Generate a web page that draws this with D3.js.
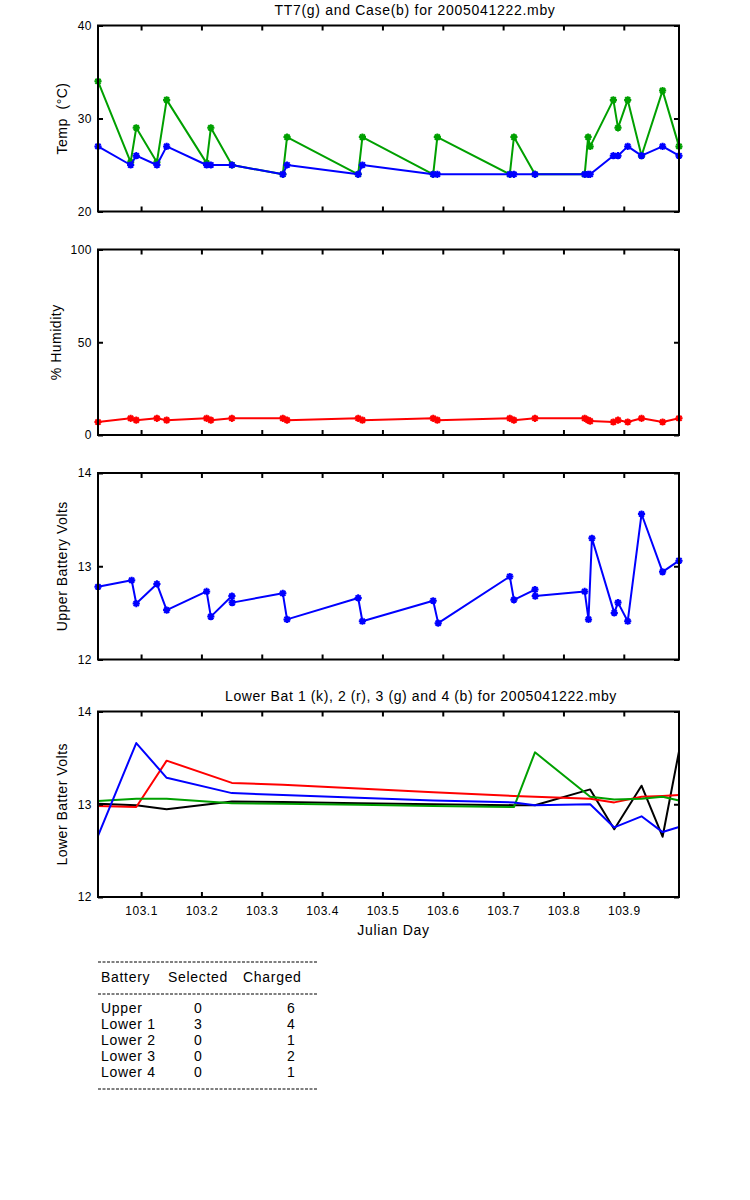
<!DOCTYPE html>
<html><head><meta charset="utf-8">
<script src="https://cdn.jsdelivr.net/npm/d3@7"></script>
<style>
body{margin:0;background:#fff}
text{font-family:"Liberation Sans",Arial,Helvetica,sans-serif;fill:#000}
</style>
</head><body>
<svg id="chart" width="750" height="1200"></svg>
<script>
// ---- data ----
const tempTime = [103.0286,103.0827,103.0920,103.1262,103.1424,103.2086,103.2156,103.2505,103.3349,103.3419,103.4598,103.4668,103.5841,103.5910,103.7111,103.7179,103.7528,103.8352,103.8409,103.8443,103.8827,103.8904,103.9065,103.9294,103.9643,103.9915];
const tt7Temp  = [34,25.3,29,25.3,32,25.2,29,25,24,28,24,28,24,28,24,28,24,24,28,27,32,29,32,26,33,27];
const caseTemp = [27,25,26,25,27,25,25,25,24,25,24,25,24,24,24,24,24,24,24,24,26,26,27,26,27,26];
const humidity = [7,9,8,9,8,9,8,9,9,8,9,8,9,8,9,8,9,9,8,7.5,7,8,7,9,7,9];

const upperTime  = [103.0286,103.0844,103.0920,103.1262,103.1424,103.2086,103.2156,103.2505,103.2510,103.3349,103.3419,103.4598,103.4668,103.5841,103.5924,103.7111,103.7179,103.7528,103.7533,103.8352,103.8415,103.8472,103.8842,103.8904,103.9065,103.9294,103.9643,103.9915];
const upperVolts = [12.78,12.85,12.60,12.81,12.53,12.73,12.46,12.68,12.61,12.71,12.43,12.66,12.41,12.63,12.39,12.89,12.64,12.75,12.68,12.73,12.43,13.30,12.50,12.61,12.41,13.56,12.94,13.06];

const lowerTime = [103.0286,103.0920,103.1424,103.2505,103.3349,103.4598,103.5841,103.7179,103.7528,103.8443,103.8842,103.9294,103.9643,103.9915];
const lower1 = [13.005,12.99,12.945,13.03,13.025,13.01,13.0,12.99,12.99,13.16,12.73,13.20,12.65,13.57];
const lower2 = [12.98,12.97,13.47,13.23,13.21,13.17,13.13,13.09,13.08,13.06,13.02,13.08,13.09,13.10];
const lower3 = [13.035,13.06,13.06,13.01,13.005,12.995,12.98,12.97,13.56,13.08,13.05,13.06,13.08,13.04];
const lower4 = [12.66,13.66,13.285,13.12,13.10,13.07,13.04,13.02,12.99,13.0,12.75,12.87,12.70,12.755];

const xTicks = [103.1,103.2,103.3,103.4,103.5,103.6,103.7,103.8,103.9];
const tempTicks = [20,30,40];
const humTicks = [0,50,100];
const voltTicks = [12,13,14];

const tableHeader = ["Battery","Selected","Charged"];
const batteries = ["Upper","Lower 1","Lower 2","Lower 3","Lower 4"];
const selectedCounts = [0,3,0,0,0];
const chargedCounts = [6,4,1,2,1];

// ---- layout ----
const svg = d3.select("#chart");
const X0 = 98, X1 = 679;
const x = d3.scaleLinear().domain(d3.extent(tempTime)).range([X0, X1]);
const GREEN = "#00a000", BLUE = "#0000ff", RED = "#ff0000", BLACK = "#000000";

const panels = [
  {top:25.5, bottom:211.5, ticks:tempTicks, label:"Temp  (°C)", labelX:67},
  {top:249.5, bottom:435, ticks:humTicks, label:"% Humidity", labelX:61},
  {top:473, bottom:659.5, ticks:voltTicks, label:"Upper Battery Volts", labelX:67},
  {top:711.5, bottom:897, ticks:voltTicks, label:"Lower Batter Volts", labelX:67}
];
panels.forEach(p => {
  p.y = d3.scaleLinear().domain(d3.extent(p.ticks)).range([p.bottom, p.top]);
});

function star(r){
  const d = r*0.72;
  return `M${-r},0H${r}M0,${-r}V${r}M${-d},${-d}L${d},${d}M${-d},${d}L${d},${-d}`;
}

function drawAxes(p, showX){
  const g = svg.append("g");
  const fmt = showX ? d3.format(".1f") : () => "";
  g.append("g").attr("transform",`translate(0,${p.bottom})`)
    .call(d3.axisBottom(x).tickValues(xTicks).tickSizeInner(-5).tickSizeOuter(0).tickPadding(9).tickFormat(fmt));
  g.append("g").attr("transform",`translate(0,${p.top})`)
    .call(d3.axisTop(x).tickValues(xTicks).tickSizeInner(-5).tickSizeOuter(0).tickFormat(""));
  g.append("g").attr("transform",`translate(${X0},0)`)
    .call(d3.axisLeft(p.y).tickValues(p.ticks).tickSizeInner(-5).tickSizeOuter(0).tickPadding(6).tickFormat(d3.format("d")));
  g.append("g").attr("transform",`translate(${X1},0)`)
    .call(d3.axisRight(p.y).tickValues(p.ticks).tickSizeInner(-5).tickSizeOuter(0).tickFormat(""));
  g.selectAll(".domain").remove();
  g.selectAll(".tick line").attr("stroke","#000").attr("stroke-width",2);
  g.selectAll(".tick text").style("font-size","12px").style("letter-spacing","0.5px").attr("fill","#000");
  g.append("rect").attr("x",X0).attr("y",p.top).attr("width",X1-X0).attr("height",p.bottom-p.top)
    .attr("fill","none").attr("stroke","#000").attr("stroke-width",2);
  svg.append("text").attr("transform",`translate(${p.labelX},${(p.top+p.bottom)/2}) rotate(-90)`)
    .attr("text-anchor","middle").style("font-size","14px").style("letter-spacing","0.5px")
    .style("white-space","pre").text(p.label);
}

function drawSeries(p, times, vals, color, markers, width){
  const pts = times.map((t,i)=>[x(t), p.y(vals[i])]);
  const g = svg.append("g");
  g.append("path").attr("d", d3.line()(pts)).attr("fill","none")
    .attr("stroke",color).attr("stroke-width",width).attr("stroke-linejoin","round");
  if (markers){
    g.selectAll("path.m").data(pts).enter().append("path").attr("class","m")
      .attr("transform",d=>`translate(${d[0]},${d[1]})`).attr("d",star(3.6))
      .attr("fill","none").attr("stroke",color).attr("stroke-width",2);
  }
}

// Panel 1: temperature
drawSeries(panels[0], tempTime, tt7Temp, GREEN, true, 2);
drawSeries(panels[0], tempTime, caseTemp, BLUE, true, 2);
drawAxes(panels[0], false);
svg.append("text").attr("x",415).attr("y",15).attr("text-anchor","middle")
  .style("font-size","14px").style("letter-spacing","0.7px").text("TT7(g) and Case(b) for 2005041222.mby");

// Panel 2: humidity
drawSeries(panels[1], tempTime, humidity, RED, true, 2);
drawAxes(panels[1], false);

// Panel 3: upper battery
drawSeries(panels[2], upperTime, upperVolts, BLUE, true, 2);
drawAxes(panels[2], false);

// Panel 4: lower batteries
[[lower1,BLACK],[lower2,RED],[lower3,GREEN],[lower4,BLUE]].forEach(([v,c]) => drawSeries(panels[3], lowerTime, v, c, false, 2));
drawAxes(panels[3], true);
svg.append("text").attr("x",421).attr("y",701).attr("text-anchor","middle")
  .style("font-size","14px").style("letter-spacing","0.6px").text("Lower Bat 1 (k), 2 (r), 3 (g) and 4 (b) for 2005041222.mby");
svg.append("text").attr("x",(X0+X1)/2+5).attr("y",935).attr("text-anchor","middle")
  .style("font-size","14px").style("letter-spacing","0.7px").text("Julian Day");

// Table
const tbl = svg.append("g");
[962,994,1089].forEach(yy => tbl.append("line").attr("x1",98).attr("x2",317).attr("y1",yy).attr("y2",yy)
  .attr("stroke","#000").attr("stroke-width",1).attr("stroke-dasharray","3,1.5"));
const colX = [101,168,243];
tableHeader.forEach((h,i)=> tbl.append("text").attr("x",colX[i]).attr("y",982)
  .style("font-size","14px").style("letter-spacing","0.7px").text(h));
batteries.forEach((b,i)=>{
  const yy = 1013 + i*16;
  tbl.append("text").attr("x",101).attr("y",yy).style("font-size","14px").style("letter-spacing","0.7px").text(b);
  tbl.append("text").attr("x",198).attr("y",yy).attr("text-anchor","middle").style("font-size","14px").text(selectedCounts[i]);
  tbl.append("text").attr("x",291).attr("y",yy).attr("text-anchor","middle").style("font-size","14px").text(chargedCounts[i]);
});
</script>
</body></html>
